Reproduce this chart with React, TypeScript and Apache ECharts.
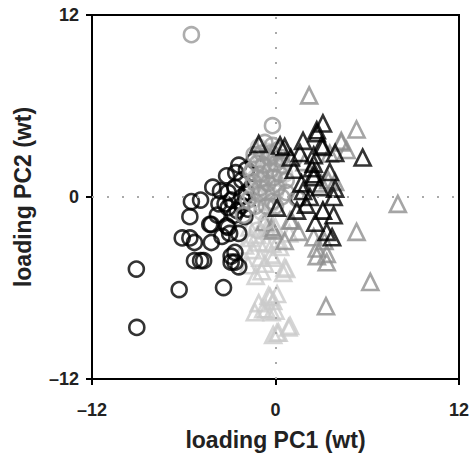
import React, { useEffect, useRef } from "react";
import * as echarts from "echarts";

const xTicks = [-12, 0, 12];
const yTicks = [-12, 0, 12];

const blackCircles: number[][] = [
  [-9.1, -4.75], [-9.07, -8.6], [-6.3, -6.1], [-3.4, -5.97], [-5.5, -0.3], [-5.6, -1.3],
  [-6.1, -2.7], [-5.6, -2.7], [-5.3, -3.0], [-4.2, -3.0], [-5.3, -4.2], [-4.7, -4.2],
  [-4.2, -1.8], [-3.1, -2.0], [-2.65, -3.65], [-2.9, -4.3], [-2.4, -4.6], [-3.8, -1.2],
  [-3.3, -0.45], [-3.2, 1.4], [-4.1, 0.65], [-2.4, 2.1], [-3.6, 0.4], [-3.1, 0.3],
  [-2.65, 0.65], [-2.2, 1.1], [-4.9, -0.2], [-2.2, 0], [-2.9, -0.2], [-4.3, -1.8],
  [-3.2, -1.9], [-4.9, -4.2], [-2.9, -3.9], [-2.65, -4.3], [-2.0, -1.3], [-3.0, -2.4],
  [-2.4, -2.4], [-3.7, -0.45], [-3.1, -0.7], [-2.2, -0.55], [-1.9, 1.8], [-1.6, 0.6],
  [-1.8, -0.8], [-2.6, 1.6], [-1.4, 2.4], [1.5, -0.1], [-2.7, -1.2], [-3.5, -2.6],
  [-1.9, 0.3], [-2.5, -0.9],
];

const grayCircles: number[][] = [
  [-5.5, 10.7], [-0.2, 4.7], [-1.2, 2.2], [-0.35, 1.75], [-1.45, 1.0], [-0.6, 0.3],
  [-1.8, -0.2], [0.3, 1.5], [0.7, 1.1], [0.7, 0.3], [0, 2.2], [-2.1, -1.2],
  [-0.9, 2.9], [0.2, 3.1], [-0.4, 2.6], [-1.0, 1.5], [0.1, 0.6], [-0.2, -0.3],
  [1.4, -0.1], [-1.3, -0.6], [0.4, 2.6], [-0.7, 3.6], [-0.8, 2.1], [-0.1, 1.3],
  [-0.5, 0.9], [-1.1, 0.2], [0.4, 0.0], [-0.3, 2.9], [-1.4, 2.8], [-0.9, 1.2],
  [0.0, -0.6], [-0.6, -0.6], [0.5, 2.1], [-1.6, 1.6], [-0.2, 3.4], [-1.0, 0.6],
];

const lightCircles: number[][] = [
  [-0.5, 3.0], [0, 2.5], [-1.0, 2.7], [0.3, 3.2], [-0.7, 1.5], [0.2, 0.8],
  [-1.2, 0.5], [-0.3, -0.5], [0.5, 2.0], [-0.9, -1.0], [-1.5, 1.8], [-0.2, 1.2],
  [-0.8, 0.9], [0.1, 1.9], [-1.1, 3.3], [-0.4, 0.2], [0.6, 1.5], [-1.6, 0.0],
  [-0.6, -1.6], [-1.2, -2.2], [-0.4, 2.2], [-0.7, 2.5], [-1.3, 1.3], [0.0, 0.3],
  [-0.9, 0.0], [-0.1, 2.8], [-0.6, 1.9], [-1.0, -0.4],
];

const blackTriangles: number[][] = [
  [-1.1, 3.5], [0.6, 3.3], [3.1, 4.85], [2.7, 4.4], [1.8, 3.7], [3.1, 3.3], [3.9, 2.9],
  [5.7, 2.6], [1.6, 2.9], [2.5, 2.2], [2.5, 1.5], [3.9, 0.55], [2.9, 0.65], [3.8, -1.2],
  [2.6, -1.7], [3.35, -2.3], [3.7, -2.65], [3.1, -0.9], [0.1, -0.7], [1.4, -0.9],
  [3.0, 3.4], [2.5, 2.75], [2.4, 1.9], [2.5, 1.3], [3.55, 1.65], [3.8, 0], [2.25, 0],
  [1.7, 0.9], [0.3, 3.4], [2.7, 4.2], [1.2, 1.8], [1.0, 2.6], [2.0, -0.5], [1.8, 0.4],
];

const grayTriangles: number[][] = [
  [2.2, 6.7], [5.3, 4.45], [4.3, 3.6], [4.65, 3.1], [8.0, -0.45], [3.45, 1.1],
  [5.3, -2.3], [6.2, -5.6], [3.3, -7.2], [2.7, -3.4], [3.35, -3.75], [0.6, -2.9],
  [-0.15, -2.2], [1.05, -1.55], [2.7, -3.9], [3.35, -4.3], [3.1, -0.9], [3.55, 2.85],
  [3.0, 0.9], [4.3, 3.7], [3.9, 1.0], [-0.25, -2.0], [0.95, -1.55], [-0.7, -1.65],
  [2.5, -2.65], [3.2, -2.9], [1.9, 2.3], [1.5, -2.3],
];

const lightTriangles: number[][] = [
  [0.6, -4.65], [0.1, -6.4], [0, -7.5], [0.85, -8.6], [0.1, -8.95], [-1.1, -7.0],
  [-0.35, -6.6], [-0.6, -7.4], [-0.15, -9.1], [-0.9, -4.9], [-0.45, -1.8], [0.2, -2.8],
  [-0.45, -6.5], [-1.35, -7.6], [-0.25, -7.6], [-0.8, -7.4], [0.2, -8.95], [0.5, -5.0],
  [0, -2.0], [-0.15, -4.0], [0.7, -4.75], [-0.15, -6.85], [0.95, -8.5], [-1.2, -2.5],
  [-1.5, -3.5], [-1.0, -4.0], [-0.6, -3.0], [-1.8, -4.5], [-0.3, -3.8], [-1.3, -5.2],
  [-0.5, -2.2], [0.3, -3.3], [-2.0, -3.2], [-1.7, -2.0], [0.9, -2.4], [-1.1, -3.0],
  [-0.7, -4.4], [-1.6, -2.7], [-0.2, -3.1],
];

const FONT = "'Liberation Sans', Arial, sans-serif";

function mk(name: string, data: number[][], symbol: string, color: string, size: number) {
  return {
    name,
    type: "scatter",
    data,
    symbol,
    symbolSize: size,
    itemStyle: { color: "rgba(0,0,0,0)", borderColor: color, borderWidth: 2.6 },
    emphasis: { disabled: true },
  };
}

export default function App() {
  const ref = useRef<HTMLDivElement>(null);
  useEffect(() => {
    if (!ref.current) return;
    const chart = echarts.init(ref.current, null, { renderer: "svg" });
    const fmt = (ticks: number[]) => (v: number) => (ticks.includes(v) ? String(v).replace("-", "\u2013") : "");
    const axisCommon = {
      min: -12,
      max: 12,
      interval: 12,
      splitLine: { show: false },
      axisLine: { show: true, onZero: false, lineStyle: { color: "#000", width: 2 } },
      axisTick: { show: true, length: 6, lineStyle: { color: "#000", width: 2 } },
      nameLocation: "middle" as const,
      nameTextStyle: { fontFamily: FONT, fontWeight: "bold" as const, fontSize: 23, color: "#222" },
    };
    chart.setOption({
      animation: false,
      grid: { left: 92, right: 15, top: 15, bottom: 84, show: true, borderColor: "#000", borderWidth: 2, backgroundColor: "#fff" },
      xAxis: {
        ...axisCommon,
        type: "value",
        name: "loading PC1 (wt)",
        nameGap: 49,
        axisLabel: { formatter: fmt(xTicks), margin: 22, fontFamily: FONT, fontWeight: "bold", fontSize: 18, color: "#222" },
      },
      yAxis: {
        ...axisCommon,
        type: "value",
        name: "loading PC2 (wt)",
        nameGap: 58,
        axisLabel: { formatter: fmt(yTicks), margin: 13, fontFamily: FONT, fontWeight: "bold", fontSize: 18, color: "#222" },
      },
      series: [
        {
          ...mk("lightTri", lightTriangles, "triangle", "#cacaca", 16),
          markLine: {
            silent: true,
            symbol: "none",
            label: { show: false },
            lineStyle: { color: "#aaa", type: [2, 13], width: 2 },
            data: [{ xAxis: 0 }, { yAxis: 0 }],
          },
        },
        mk("grayTri", grayTriangles, "triangle", "#8e8e8e", 16),
        mk("blackCirc", blackCircles, "circle", "#000", 15),
        mk("lightCirc", lightCircles, "circle", "#c4c4c4", 15),
        mk("grayCirc", grayCircles, "circle", "#999", 15),
        mk("blackTri", blackTriangles, "triangle", "#000", 16),
      ],
    });
    return () => chart.dispose();
  }, []);
  return (
    <div
      ref={ref}
      style={{ position: "fixed", left: 0, top: 0, width: 474, height: 463, background: "#fff" }}
    />
  );
}
